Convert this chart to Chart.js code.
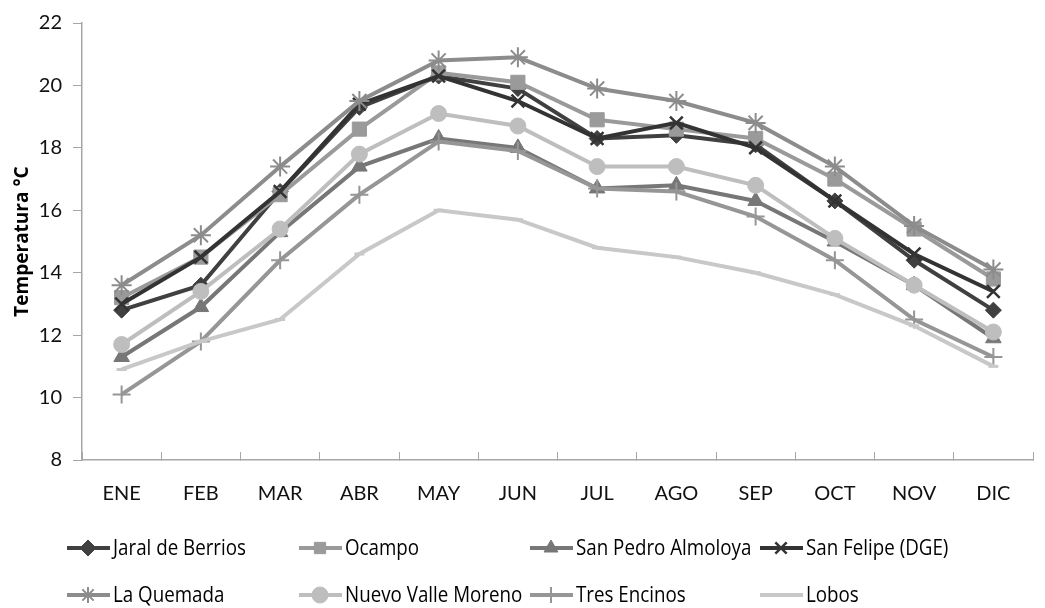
<!DOCTYPE html>
<html>
<head>
<meta charset="utf-8">
<script src="https://cdn.jsdelivr.net/npm/chart.js@4"></script>
<style>
  html, body { margin: 0; padding: 0; background: #fff; }
  #wrap { width: 1045px; height: 608px; }
</style>
</head>
<body>
<div id="wrap"><canvas id="chart"></canvas></div>
<script>
// months on the x axis
const months = ['ENE', 'FEB', 'MAR', 'ABR', 'MAY', 'JUN', 'JUL', 'AGO', 'SEP', 'OCT', 'NOV', 'DIC'];

// monthly mean temperature (°C) per station
const jaralDeBerrios   = [12.8, 13.6, 16.6, 19.3, 20.3, 19.9, 18.3, 18.4, 18.1, 16.3, 14.4, 12.8];
const ocampo           = [13.2, 14.5, 16.5, 18.6, 20.4, 20.1, 18.9, 18.6, 18.3, 17.0, 15.4, 13.8];
const sanPedroAlmoloya = [11.3, 12.9, 15.3, 17.4, 18.3, 18.0, 16.7, 16.8, 16.3, 15.0, 13.6, 11.9];
const sanFelipeDGE     = [13.0, 14.5, 16.6, 19.4, 20.3, 19.5, 18.3, 18.8, 18.0, 16.3, 14.6, 13.4];
const laQuemada        = [13.6, 15.2, 17.4, 19.5, 20.8, 20.9, 19.9, 19.5, 18.8, 17.4, 15.5, 14.1];
const nuevoValleMoreno = [11.7, 13.4, 15.4, 17.8, 19.1, 18.7, 17.4, 17.4, 16.8, 15.1, 13.6, 12.1];
const tresEncinos      = [10.1, 11.8, 14.4, 16.5, 18.2, 17.9, 16.7, 16.6, 15.8, 14.4, 12.5, 11.3];
const lobos            = [10.9, 11.8, 12.5, 14.6, 16.0, 15.7, 14.8, 14.5, 14.0, 13.3, 12.3, 11.0];

// y axis ticks
const yMin = 8, yMax = 22, yStep = 2;

function series(label, data, color, style, radius, bw) {
  return {
    label: label,
    data: data,
    borderColor: color,
    backgroundColor: color,
    borderWidth: 4,
    tension: 0,
    pointStyle: style,
    pointRadius: radius,
    pointBorderWidth: bw,
    pointBackgroundColor: color,
    pointBorderColor: color
  };
}

const datasets = [
  series('Jaral de Berrios', jaralDeBerrios, '#404040', 'rectRot', 8, 1),
  series('Ocampo', ocampo, '#9a9a9a', 'rect', 10, 1),
  series('San Pedro Almoloya', sanPedroAlmoloya, '#777777', 'triangle', 9, 1),
  series('San Felipe (DGE)', sanFelipeDGE, '#333333', 'crossRot', 9, 2.5),
  series('La Quemada', laQuemada, '#8c8c8c', 'star', 10, 2),
  series('Nuevo Valle Moreno', nuevoValleMoreno, '#bebebe', 'circle', 8, 1),
  series('Tres Encinos', tresEncinos, '#969696', 'cross', 9, 2),
  series('Lobos', lobos, '#c8c8c8', 'line', 5, 3)
];
// Excel draws later series on top
datasets.forEach(function(d, i) { d.order = datasets.length - i; });

const LEGEND_FONT = '22px "Open Sans", sans-serif';

// legend in a 4 x 2 grid like the original (narrow font faked by squeezing)
const gridLegend = {
  id: 'gridLegend',
  afterDraw: function(chart) {
    const ctx = chart.ctx;
    const cols = [67, 299, 530, 760];
    const rows = [548, 595];
    ctx.save();
    ctx.font = LEGEND_FONT;
    const squeeze = 133 / ctx.measureText('Jaral de Berrios').width;
    chart.data.datasets.forEach(function(ds, i) {
      const x = cols[i % 4];
      const y = rows[Math.floor(i / 4)];
      ctx.strokeStyle = ds.borderColor;
      ctx.lineWidth = 4;
      ctx.beginPath();
      ctx.moveTo(x, y);
      ctx.lineTo(x + 43, y);
      ctx.stroke();
      ctx.fillStyle = ds.pointBackgroundColor;
      ctx.strokeStyle = ds.pointBorderColor;
      ctx.lineWidth = ds.pointBorderWidth;
      Chart.helpers.drawPoint(ctx, {
        pointStyle: ds.pointStyle,
        radius: Math.min(ds.pointRadius, 8),
        rotation: 0,
        borderWidth: ds.pointBorderWidth
      }, x + 21, y);
      ctx.save();
      ctx.translate(x + 46, y + 1);
      ctx.scale(squeeze, 1);
      ctx.fillStyle = '#000';
      ctx.textAlign = 'left';
      ctx.textBaseline = 'middle';
      ctx.fillText(ds.label, 0, 0);
      ctx.restore();
    });
    ctx.restore();
  }
};

new Chart(document.getElementById('chart'), {
  type: 'line',
  data: { labels: months, datasets: datasets },
  options: {
    responsive: true,
    maintainAspectRatio: false,
    animation: false,
    layout: { padding: { top: 19, right: 4, bottom: 100, left: 0 } },
    plugins: {
      legend: { display: false },
      tooltip: { enabled: false }
    },
    scales: {
      x: {
        offset: true,
        afterFit: function(scale) { scale.height = 48; },
        grid: {
          offset: true,
          drawOnChartArea: false,
          tickLength: -8,
          color: '#a6a6a6',
          tickColor: '#a6a6a6'
        },
        border: { color: '#a6a6a6', width: 1.5 },
        ticks: {
          color: '#111',
          padding: 30,
          font: { family: 'Lato, "Open Sans", sans-serif', size: 20 }
        }
      },
      y: {
        min: yMin,
        max: yMax,
        afterFit: function(scale) { scale.width = 82; },
        grid: {
          drawOnChartArea: false,
          tickLength: 9,
          color: '#a6a6a6',
          tickColor: '#a6a6a6'
        },
        border: { color: '#a6a6a6', width: 1.5 },
        ticks: {
          stepSize: yStep,
          color: '#111',
          padding: 11,
          font: { family: 'Lato, "Open Sans", sans-serif', size: 20 }
        },
        title: {
          display: true,
          text: 'Temperatura °C',
          color: '#000',
          padding: { top: 11, bottom: 0 },
          font: { family: '"Open Sans", sans-serif', size: 19, weight: 'bold' }
        }
      }
    }
  },
  plugins: [gridLegend]
});
</script>
</body>
</html>
